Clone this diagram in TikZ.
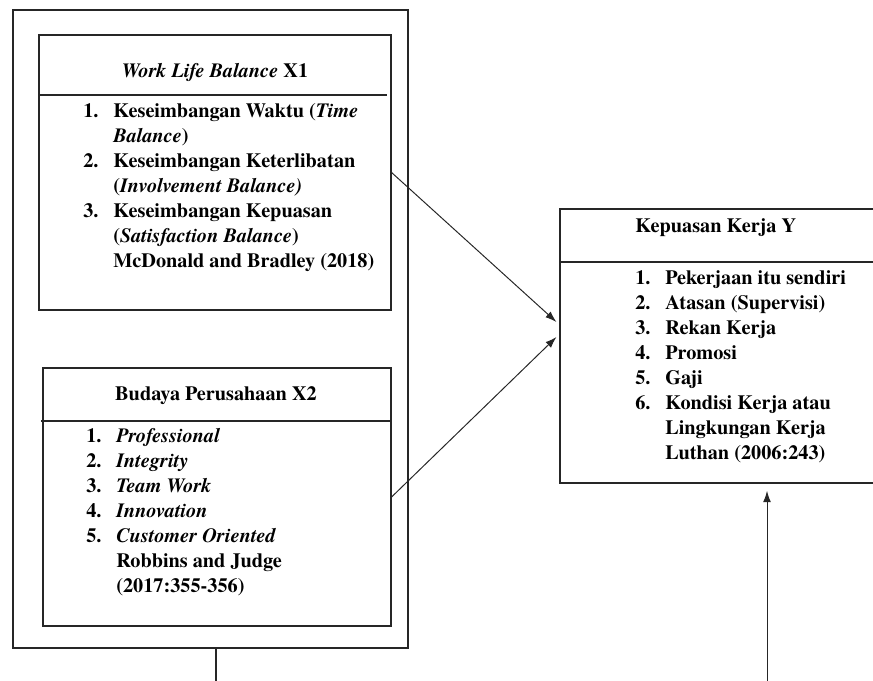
\documentclass[tikz,border=0pt]{standalone}
\usepackage{fontspec}
\setmainfont{texgyretermes}[Extension=.otf,
  UprightFont=*-regular,BoldFont=*-bold,
  ItalicFont=*-italic,BoldItalicFont=*-bolditalic]
\usetikzlibrary{arrows.meta,fit,calc}

\newcommand{\nummer}[1]{\makebox[0.75cm][l]{#1}}
\newcommand{\weiter}{\hspace*{0.75cm}}

\begin{document}
\begin{tikzpicture}[x=0.025cm,y=-0.025cm,
    rahmen/.style={draw=black!85,line width=0.8pt,inner sep=0pt},
    linie/.style={draw=black!85,line width=0.8pt},
    pfeil/.style={draw=black!85,line width=0.7pt,-{Latex[length=8pt,width=5.5pt]}},
    titel/.style={font=\fontsize{14.4}{17.8}\selectfont\bfseries,inner sep=0pt},
    liste/.style={font=\fontsize{14.4}{17.8}\selectfont\bfseries,align=left,anchor=north west,inner sep=0pt}]
  \useasboundingbox (0,0) rectangle (873,680);
  \clip (0,0) rectangle (873,680);

  % Kaesten
  \node[rahmen,fit={(13,10) (408,648)}] (aussen) {};
  \node[rahmen,fit={(39,35) (391,310)}] (wlb) {};
  \node[rahmen,fit={(43,368) (391,626)}] (budaya) {};
  \node[rahmen,fit={(560,209) (890,483)}] (kepuasan) {};

  % Trennlinien
  \draw[linie] (39,95) -- (387,95);
  \draw[linie] (41,421) -- (391,421);
  \draw[linie] (560,262) -- (873,262);

  % Titel
  \node[titel] (t1) at (215,72) {\textit{Work Life Balance} X1};
  \node[titel] (t2) at (216,396) {Budaya Perusahaan X2};
  \node[titel,anchor=west] (t3) at (635,228) {Kepuasan Kerja Y};

  % Indikatoren
  \node[liste] (l1) at (83,103) {\nummer{1.}Keseimbangan Waktu (\textit{Time}\\
    \weiter\textit{Balance})\\
    \nummer{2.}Keseimbangan Keterlibatan\\
    \weiter(\textit{Involvement Balance)}\\
    \nummer{3.}Keseimbangan Kepuasan\\
    \weiter(\textit{Satisfaction Balance})\\
    \weiter McDonald and Bradley (2018)};
  \node[liste] (l2) at (86,428) {\nummer{1.}\textit{Professional}\\
    \nummer{2.}\textit{Integrity}\\
    \nummer{3.}\textit{Team Work}\\
    \nummer{4.}\textit{Innovation}\\
    \nummer{5.}\textit{Customer Oriented}\\
    \weiter Robbins and Judge\\
    \weiter(2017:355-356)};
  \node[liste] (l3) at (635,270) {\nummer{1.}Pekerjaan itu sendiri\\
    \nummer{2.}Atasan (Supervisi)\\
    \nummer{3.}Rekan Kerja\\
    \nummer{4.}Promosi\\
    \nummer{5.}Gaji\\
    \nummer{6.}Kondisi Kerja atau\\
    \weiter Lingkungan Kerja\\
    \weiter Luthan (2006:243)};

  % Pfeile
  \draw[pfeil] (wlb.east) -- ($(kepuasan.west)+(-3,-24)$);
  \draw[pfeil] (budaya.east) -- ($(kepuasan.west)+(-3,-9)$);

  % Linien nach unten
  \coordinate (unten1) at (216,690);
  \coordinate (unten2) at (767,690);
  \draw[linie] (unten1 |- aussen.south) -- (unten1);
  \draw[pfeil,shorten >=1.8mm] (unten2) -- (unten2 |- kepuasan.south);
\end{tikzpicture}
\end{document}
